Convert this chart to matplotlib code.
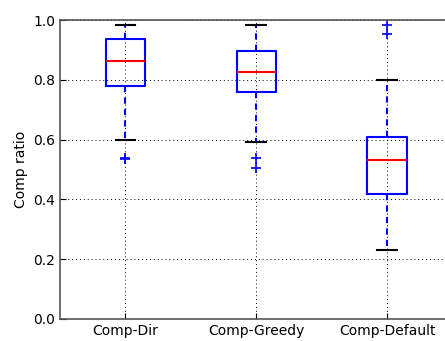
import matplotlib
matplotlib.use("Agg")
import matplotlib.pyplot as plt

labels = ["Comp-Dir", "Comp-Greedy", "Comp-Default"]
medians = [0.864, 0.826, 0.532]
q1 = [0.780, 0.760, 0.417]
q3 = [0.935, 0.897, 0.610]
whislo = [0.599, 0.591, 0.231]
whishi = [0.983, 0.983, 0.798]
fliers = [[0.540, 0.535], [0.537, 0.506], [0.983, 0.952]]

stats = []
for i in range(len(labels)):
    stats.append(dict(label=labels[i], med=medians[i], q1=q1[i], q3=q3[i],
                      whislo=whislo[i], whishi=whishi[i], fliers=fliers[i]))

fig = plt.figure(figsize=(4.45, 3.41), dpi=100)
ax = fig.add_axes([60 / 445, 1 - 319 / 341, 392.5 / 445, 299 / 341])

ax.bxp(stats, widths=0.3,
       boxprops=dict(color="blue", linewidth=1.5),
       whiskerprops=dict(color="blue", linestyle=(0, (3, 2.5)), linewidth=1.5),
       capprops=dict(color="black", linewidth=1.5),
       medianprops=dict(color="red", linewidth=1.5),
       flierprops=dict(marker="+", markeredgecolor="blue", markersize=7,
                       markeredgewidth=1.2, linestyle="none"))

ax.set_ylim(0, 1.0)
ax.set_xlim(0.5, 3.5)
ax.set_yticks([0.0, 0.2, 0.4, 0.6, 0.8, 1.0])
ax.set_ylabel("Comp ratio", fontsize=10)
ax.grid(True, color="black", linestyle=(0, (1, 3)), linewidth=0.7)
ax.set_axisbelow(True)
ax.tick_params(direction="in", labelsize=10, length=4, top=False, right=False)
for s in ax.spines.values():
    s.set_color("#555555")
    s.set_linewidth(1.2)

fig.savefig("out.png", dpi=100)
